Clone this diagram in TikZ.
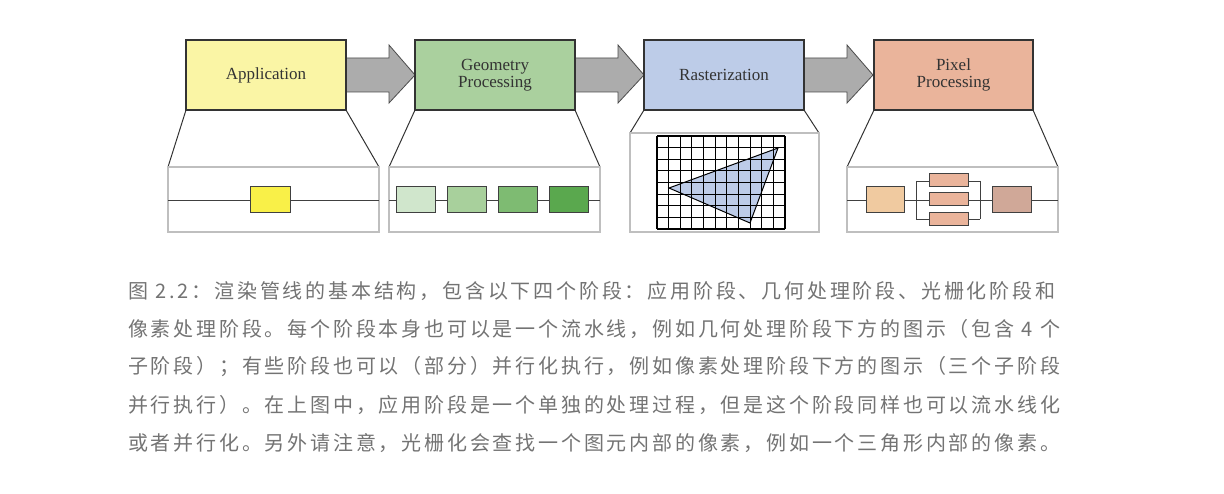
\documentclass[tikz,border=0pt]{standalone}
\usepackage{fontspec}
\setmainfont{Liberation Serif}
\newfontfamily\cjk[LetterSpace=14]{Noto Sans CJK SC}
\definecolor{cApp}{RGB}{250,245,165}
\definecolor{cGeo}{RGB}{170,208,158}
\definecolor{cRas}{RGB}{189,204,232}
\definecolor{cPix}{RGB}{234,180,155}
\definecolor{cA1}{RGB}{249,240,72}
\definecolor{cG1}{RGB}{208,230,204}
\definecolor{cG2}{RGB}{168,208,156}
\definecolor{cG3}{RGB}{126,187,114}
\definecolor{cG4}{RGB}{90,168,78}
\definecolor{cP1}{RGB}{240,202,160}
\definecolor{cP5}{RGB}{208,168,152}
\begin{document}
\begin{tikzpicture}[x=1pt,y=-1pt,
  stage/.style={draw=black!80,line width=1.3pt,font=\fontsize{17}{19}\selectfont,text=black!80,align=center,minimum width=160pt,minimum height=70pt},
  lower/.style={draw=black!25,line width=1.2pt,fill=white},
  sub/.style={draw=black!75,line width=1pt,inner sep=0pt},
  fat/.style={fill=gray!65,draw=black!70,line width=0.8pt},
  captxt/.style={anchor=west,font=\cjk\fontsize{20}{22}\selectfont,text=black!55,inner sep=0pt}]
\useasboundingbox (0,0) rectangle (1224,494);
% trapezoid sides
\draw[black!80,line width=1pt] (186,110)--(168,167) (346,110)--(379,167)
  (415,110)--(389,167) (575,110)--(600,167)
  (644,110)--(630,133) (804,110)--(819,133)
  (874,110)--(847,167) (1033,110)--(1058,167);
% lower boxes
\draw[lower] (168,167) rectangle (379,232);
\draw[lower] (389,167) rectangle (600,232);
\draw[lower] (630,133) rectangle (819,232);
\draw[lower] (847,167) rectangle (1058,232);
% arrows
\foreach \a in {346,575,804}{
  \draw[fat] (\a,58)--(\a+43,58)--(\a+43,45)--(\a+69,75)--(\a+43,103)--(\a+43,92)--(\a,92)--cycle;}
% top stages
\node[stage,fill=cApp] (app) at (266,75) {Application};
\node[stage,fill=cGeo] (geo) at (495,75) {Geometry\\[-2pt]Processing};
\node[stage,fill=cRas] (ras) at (724,75) {Rasterization};
\node[stage,fill=cPix,minimum width=159pt] (pix) at (953.5,75) {Pixel\\[-2pt]Processing};
% application sub
\draw[black!75,line width=0.8pt] (168,200)--(379,200);
\node[sub,fill=cA1,minimum width=40pt,minimum height=26pt] (a1) at (270,200) {};
% geometry sub
\draw[black!75,line width=0.8pt] (389,200)--(600,200);
\node[sub,fill=cG1,minimum width=39pt,minimum height=26pt] (g1) at (415.5,200) {};
\node[sub,fill=cG2,minimum width=39pt,minimum height=26pt] (g2) at (466.5,200) {};
\node[sub,fill=cG3,minimum width=39pt,minimum height=26pt] (g3) at (517.5,200) {};
\node[sub,fill=cG4,minimum width=39pt,minimum height=26pt] (g4) at (568.5,200) {};
% raster grid
\fill[white] (657,136) rectangle (785,229);
\fill[cRas] (669,188)--(778,148)--(750,223)--cycle;
\draw[black,line width=1pt] (669,188)--(778,148)--(750,223)--cycle;
\foreach \i in {0,...,11}{\draw[black,line width=1.1pt] (657+\i*11.636,136)--(657+\i*11.636,229);}
\foreach \j in {0,...,8}{\draw[black,line width=1.1pt] (657,136+\j*11.625)--(785,136+\j*11.625);}
% pixel sub
\draw[black!75,line width=0.8pt] (847,200)--(916,200) (980,200)--(1058,200)
  (916,181)--(916,219) (980,181)--(980,219)
  (916,181)--(929,181) (916,219)--(929,219) (916,200)--(929,200)
  (968,181)--(980,181) (968,219)--(980,219) (968,200)--(980,200);
\node[sub,fill=cP1,minimum width=38pt,minimum height=26pt] (p1) at (885,200) {};
\node[sub,fill=cPix,minimum width=39pt,minimum height=13pt] (p2) at (948.5,180.5) {};
\node[sub,fill=cPix,minimum width=39pt,minimum height=13pt] (p3) at (948.5,199.5) {};
\node[sub,fill=cPix,minimum width=39pt,minimum height=13pt] (p4) at (948.5,219.5) {};
\node[sub,fill=cP5,minimum width=39pt,minimum height=26pt] (p5) at (1011.5,200) {};
% caption
\node[captxt] (c1) at (128,291) {图 2.2：渲染管线的基本结构，包含以下四个阶段：应用阶段、几何处理阶段、光栅化阶段和};
\node[captxt] (c2) at (128,329) {像素处理阶段。每个阶段本身也可以是一个流水线，例如几何处理阶段下方的图示（包含 4 个};
\node[captxt] (c3) at (128,367) {子阶段）；有些阶段也可以（部分）并行化执行，例如像素处理阶段下方的图示（三个子阶段};
\node[captxt] (c4) at (128,405) {并行执行）。在上图中，应用阶段是一个单独的处理过程，但是这个阶段同样也可以流水线化};
\node[captxt] (c5) at (128,443) {或者并行化。另外请注意，光栅化会查找一个图元内部的像素，例如一个三角形内部的像素。};
\end{tikzpicture}
\end{document}
